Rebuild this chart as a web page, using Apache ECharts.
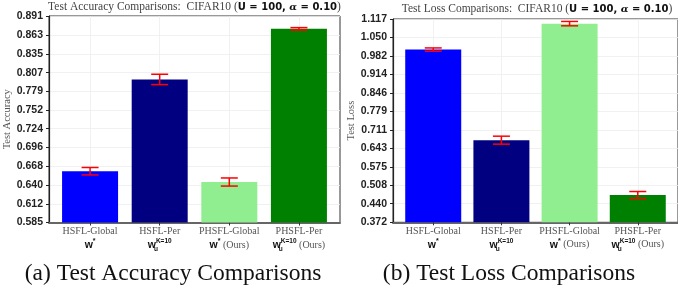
<!DOCTYPE html>
<html>
<head>
<meta charset="utf-8">
<title>CIFAR10 Comparisons</title>
<script src="https://cdn.jsdelivr.net/npm/echarts@6/dist/echarts.min.js"></script>
</head>
<body style="margin:0;background:#fff">
<div id="main" style="width:678px;height:296px;"></div>
<script>
// categories and their second-line tags (rich text)
var methods = ['HSFL-Global', 'HSFL-Per', 'PHSFL-Global', 'PHSFL-Per'];
var methodTags = ['{w|w}{s|*}', '{w|w}{u|u}{k|K=10}', '{w|w}{s|*}{o| (Ours)}', '{w|w}{u|u}{k|K=10}{o| (Ours)}'];
var catPos = [0, 1, 2, 3];
var barColors = ['#0000ff', '#000080', '#90ee90', '#008000'];

// values
var accMean = [0.661, 0.797, 0.645, 0.872];
var accErr = [0.0055, 0.0077, 0.006, 0.0018];
var lossMean = [1.005, 0.673, 1.100, 0.472];
var lossErr = [0.006, 0.0146, 0.008, 0.0128];

// tick labels
var accTicks = [0.585, 0.612, 0.640, 0.668, 0.696, 0.724, 0.752, 0.779, 0.807, 0.835, 0.863, 0.891];
var lossTicks = [0.372, 0.440, 0.508, 0.575, 0.643, 0.711, 0.779, 0.846, 0.914, 0.982, 1.050, 1.117];

var myChart = echarts.init(document.getElementById('main'));

var titleRich = {
    t: { fontFamily: 'Liberation Serif', fontSize: 11.5, fontWeight: 'normal', color: '#444' },
    b: { fontFamily: 'DejaVu Sans', fontWeight: 'bold', fontSize: 10, color: '#111' },
    a: { fontFamily: 'DejaVu Serif', fontStyle: 'italic', fontWeight: 'bold', fontSize: 10, color: '#111' }
};
var labelRich = {
    n: { fontFamily: 'Liberation Serif', fontSize: 10, color: '#555', lineHeight: 12 },
    w: { fontFamily: 'Liberation Sans', fontWeight: 'bold', fontSize: 10.5, color: '#111', lineHeight: 15 },
    s: { fontFamily: 'Liberation Sans', fontWeight: 'bold', fontSize: 7, color: '#111', verticalAlign: 'top' },
    k: { fontFamily: 'Liberation Sans', fontWeight: 'bold', fontSize: 6.5, color: '#111', verticalAlign: 'top' },
    u: { fontFamily: 'Liberation Sans', fontWeight: 'bold', fontSize: 6.5, color: '#111', verticalAlign: 'bottom', width: 0.01, align: 'left' },
    o: { fontFamily: 'Liberation Serif', fontSize: 10, color: '#555' }
};

function xAxisFor(gi) {
    return {
        gridIndex: gi, type: 'value', min: -0.59, max: 3.59,
        axisLine: { onZero: false, lineStyle: { color: '#666', width: 2 } },
        axisTick: { customValues: catPos, length: 3, lineStyle: { color: '#333' } },
        axisLabel: {
            customValues: catPos, margin: 3, rich: labelRich,
            formatter: function (v) {
                var i = Math.round(v);
                return '{n|' + methods[i] + '}\n' + methodTags[i];
            }
        },
        splitLine: { show: true, lineStyle: { color: '#ededed', width: 0.8 } }
    };
}

function yAxisFor(gi, ticks, name, gap) {
    return {
        gridIndex: gi, type: 'value', min: ticks[0], max: ticks[ticks.length - 1],
        name: name, nameLocation: 'middle', nameGap: gap,
        nameTextStyle: { fontFamily: 'Liberation Serif', fontSize: 10.5, color: '#555' },
        axisLine: { show: true, onZero: false, lineStyle: { color: '#222', width: 1.2 } },
        axisTick: { show: true, customValues: ticks, length: 3, lineStyle: { color: '#222' } },
        axisLabel: {
            customValues: ticks, margin: 6,
            fontFamily: 'Liberation Sans', fontWeight: 'bold', fontSize: 10.5, color: '#222',
            formatter: function (v) { return v.toFixed(3); }
        },
        splitLine: { show: true, lineStyle: { color: '#ededed', width: 0.8 } }
    };
}

function barSeries(gi, mean) {
    return {
        type: 'bar', xAxisIndex: gi, yAxisIndex: gi, barWidth: 56, z: 2,
        data: catPos.map(function (x, i) {
            return { value: [x, mean[i]], itemStyle: { color: barColors[i] } };
        })
    };
}

function errSeries(gi, mean, err) {
    return {
        type: 'custom', xAxisIndex: gi, yAxisIndex: gi, z: 5,
        encode: { x: 0, y: [1, 2] },
        data: catPos.map(function (x, i) { return [x, mean[i] - err[i], mean[i] + err[i]]; }),
        renderItem: function (params, api) {
            var x = api.value(0);
            var lo = api.coord([x, api.value(1)]);
            var hi = api.coord([x, api.value(2)]);
            var hw = 8.5;
            var st = { stroke: '#ff0000', lineWidth: 1.5 };
            return {
                type: 'group', children: [
                    { type: 'line', shape: { x1: lo[0], y1: lo[1], x2: hi[0], y2: hi[1] }, style: st },
                    { type: 'line', shape: { x1: lo[0] - hw, y1: lo[1], x2: lo[0] + hw, y2: lo[1] }, style: st },
                    { type: 'line', shape: { x1: hi[0] - hw, y1: hi[1], x2: hi[0] + hw, y2: hi[1] }, style: st }
                ]
            };
        }
    };
}

var option = {
    animation: false,
    title: [{
        text: '{t|Test Accuracy Comparisons:  CIFAR10 (}{b|U = 100, }{a|α}{b| = 0.10}{t|)}',
        left: 194.5, top: 1, padding: 0, textAlign: 'center',
        textStyle: { fontWeight: 'normal', rich: titleRich }
    }, {
        text: '{t|Test Loss Comparisons:  CIFAR10 (}{b|U = 100, }{a|α}{b| = 0.10}{t|)}',
        left: 537, top: 3, padding: 0, textAlign: 'center',
        textStyle: { fontWeight: 'normal', rich: titleRich }
    }, {
        text: '(a) Test Accuracy Comparisons',
        left: 173, top: 262, padding: 0, textAlign: 'center',
        textStyle: { fontFamily: 'Liberation Serif', fontSize: 23.5, fontWeight: 'normal', color: '#111' }
    }, {
        text: '(b) Test Loss Comparisons',
        left: 509, top: 262, padding: 0, textAlign: 'center',
        textStyle: { fontFamily: 'Liberation Serif', fontSize: 23.5, fontWeight: 'normal', color: '#111' }
    }],
    grid: [
        { left: 49, top: 16, width: 291, height: 206.5, show: true, borderColor: '#333', borderWidth: 1, backgroundColor: 'transparent' },
        { left: 393, top: 19, width: 289, height: 203.3, show: true, borderColor: '#333', borderWidth: 1, backgroundColor: 'transparent' }
    ],
    xAxis: [xAxisFor(0), xAxisFor(1)],
    yAxis: [yAxisFor(0, accTicks, 'Test Accuracy', 31), yAxisFor(1, lossTicks, 'Test Loss', 32)],
    series: [
        barSeries(0, accMean), errSeries(0, accMean, accErr),
        barSeries(1, lossMean), errSeries(1, lossMean, lossErr)
    ]
};

myChart.setOption(option);
</script>
</body>
</html>
